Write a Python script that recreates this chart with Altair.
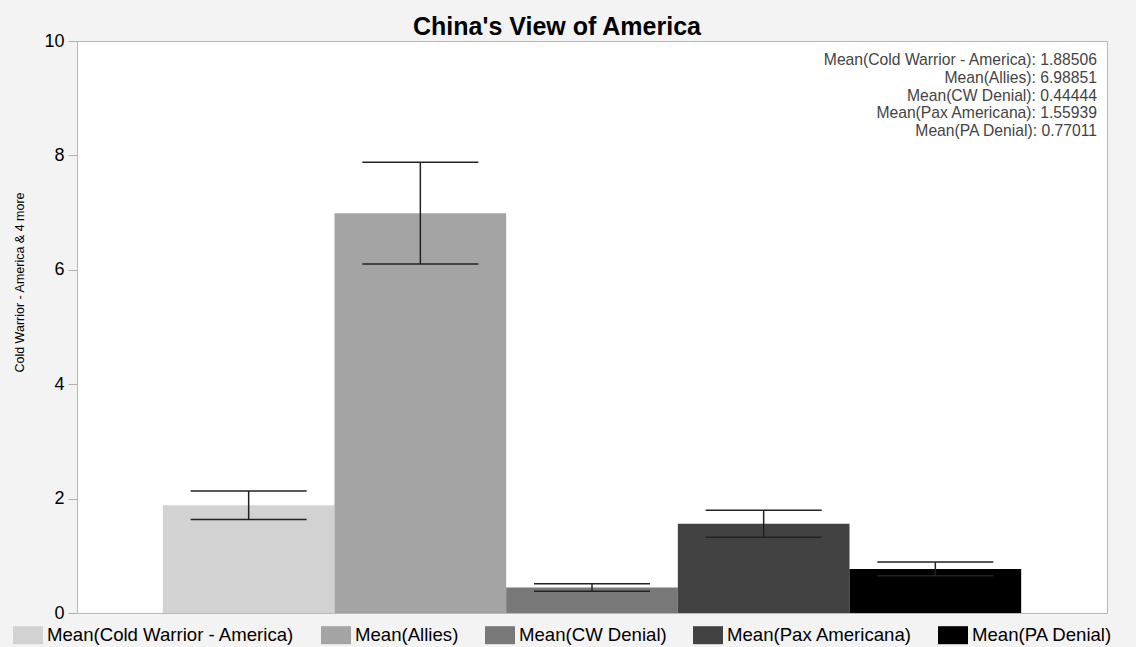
import altair as alt
import pandas as pd

series = ["Mean(Cold Warrior - America)", "Mean(Allies)", "Mean(CW Denial)",
          "Mean(Pax Americana)", "Mean(PA Denial)"]
names = ["Cold Warrior - America", "Allies", "CW Denial", "Pax Americana", "PA Denial"]
means = [1.88506, 6.98851, 0.44444, 1.55939, 0.77011]
err_lo = [1.635, 6.10, 0.38, 1.325, 0.65]
err_hi = [2.135, 7.88, 0.51, 1.795, 0.89]
colors = ["#d2d2d2", "#a4a4a4", "#787878", "#424242", "#000000"]
y_ticks = [0, 2, 4, 6, 8, 10]

df = pd.DataFrame({"series": series, "mean": means, "lo": err_lo, "hi": err_hi})
ann = pd.DataFrame({"text": ["\n".join(f"Mean({n}): {m:.5f}" for n, m in zip(names, means))]})

FONT = "Liberation Sans"

xenc = alt.X("series:N", sort=series, axis=None,
             scale=alt.Scale(paddingInner=0, paddingOuter=0.5))
yscale = alt.Scale(domain=[0, 10], nice=False)

bars = alt.Chart(df).mark_bar(opacity=1).encode(
    x=xenc,
    y=alt.Y("mean:Q", scale=yscale,
            title="Cold Warrior - America & 4 more",
            axis=alt.Axis(values=y_ticks, format="d", grid=False, labelFontSize=18,
                          labelFont=FONT, labelColor="#000000", tickColor="#b0b0b0",
                          tickSize=9, labelPadding=4, domainColor="#b8b8b8",
                          titleFont=FONT, titleFontSize=12.5, titleFontWeight="normal",
                          titleColor="#000000", titleX=-58, titleY=241,
                          titleBaseline="middle", titleAngle=-90)),
    color=alt.Color("series:N", sort=series,
                    scale=alt.Scale(domain=series, range=colors),
                    legend=alt.Legend(title=None, orient="none", legendX=-64, legendY=579,
                                      direction="horizontal", columns=5, columnPadding=26,
                                      symbolType="M-1,-0.6H1V0.6H-1Z", symbolSize=900,
                                      symbolStrokeWidth=0, symbolOpacity=1,
                                      labelFont=FONT, labelFontSize=18.6, labelColor="#000000",
                                      labelOffset=4, labelLimit=400, padding=0)),
)

rule = alt.Chart(df).mark_rule(color="#222222", strokeWidth=1.5).encode(
    x=xenc, y=alt.Y("lo:Q", scale=yscale), y2="hi:Q")
cap_lo = alt.Chart(df).mark_tick(color="#222222", thickness=1.5, size=116, opacity=1).encode(
    x=xenc, y=alt.Y("lo:Q", scale=yscale))
cap_hi = alt.Chart(df).mark_tick(color="#222222", thickness=1.5, size=116, opacity=1).encode(
    x=xenc, y=alt.Y("hi:Q", scale=yscale))

note = alt.Chart(ann).mark_text(align="right", baseline="top", font=FONT, fontSize=15.7,
                                lineHeight=17.8, color="#444444", lineBreak="\n").encode(
    x=alt.value(1020), y=alt.value(12), text="text:N")

chart = alt.layer(bars, rule, cap_lo, cap_hi, note).properties(
    width=1030, height=572,
    autosize="none",
    padding={"left": 77, "top": 41, "right": 29, "bottom": 34},
    background="#f3f3f3",
    title=alt.TitleParams("China's View of America", font=FONT, fontSize=25,
                          fontWeight="bold", color="#000000", anchor="middle",
                          frame="group", dx=-35, dy=33, offset=5, baseline="alphabetic"),
).configure_view(stroke="#b8b8b8", fill="white", strokeWidth=1)

chart.save("out.html", embed_options={"renderer": "svg", "actions": False})
